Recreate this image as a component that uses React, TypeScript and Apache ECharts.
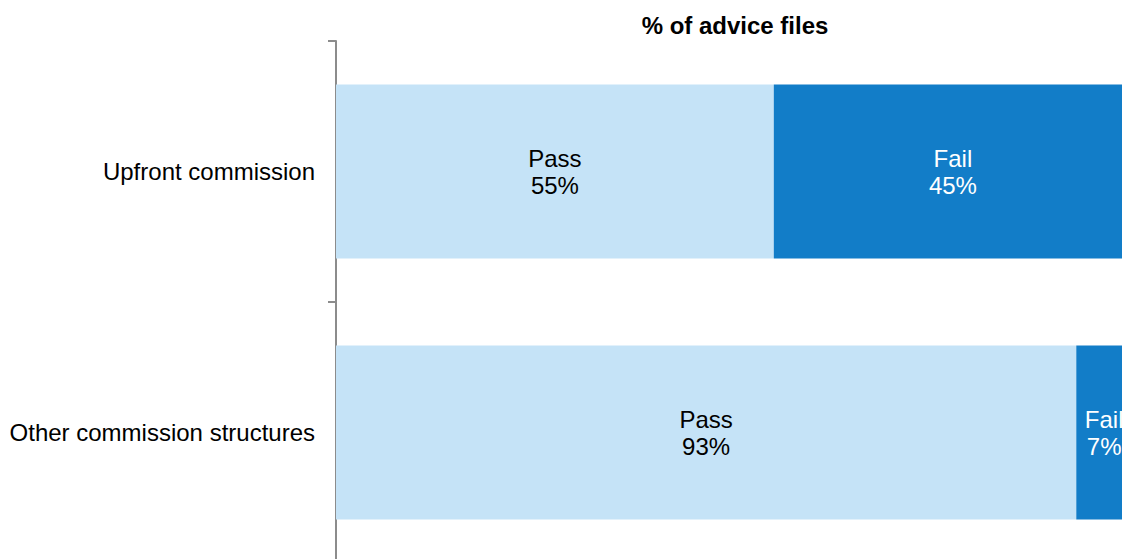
import React, { useEffect, useRef } from "react";
import * as echarts from "echarts";

const categories = ["Upfront commission", "Other commission structures"];
const passValues = [55, 93];
const failValues = [45, 7];
const passLabel = "Pass";
const failLabel = "Fail";
const chartTitle = "% of advice files";

const FONT = "'Liberation Sans', Arial, Helvetica, sans-serif";

export default function App() {
  const ref = useRef<HTMLDivElement>(null);
  useEffect(() => {
    if (!ref.current) return;
    const chart = echarts.init(ref.current, undefined, { renderer: "svg" });
    chart.setOption({
      animation: false,
      backgroundColor: "#ffffff",
      textStyle: { fontFamily: FONT },
      graphic: [
        {
          type: "text",
          x: 735,
          y: 25,
          style: {
            text: chartTitle,
            font: `bold 24px ${FONT}`,
            fill: "#000000",
            align: "center",
            verticalAlign: "middle",
          },
        },
      ],
      grid: { left: 336, right: 18, top: 41, bottom: 17, containLabel: false },
      xAxis: { type: "value", min: 0, max: 100, show: false },
      yAxis: {
        type: "category",
        data: categories,
        inverse: true,
        axisLine: { show: true, lineStyle: { color: "#8c8c8c", width: 2 } },
        axisTick: { show: true, length: 8, lineStyle: { color: "#8c8c8c", width: 2 } },
        axisLabel: { margin: 21, fontSize: 24, color: "#000000", fontFamily: FONT },
        splitLine: { show: false },
      },
      series: [
        {
          name: passLabel,
          type: "bar",
          stack: "total",
          barWidth: 174,
          data: passValues,
          itemStyle: { color: "#C5E3F7" },
          label: {
            show: true,
            position: "inside",
            formatter: (p: any) => `${passLabel}\n${p.value}%`,
            color: "#000000",
            fontSize: 24,
            lineHeight: 27,
            fontFamily: FONT,
          },
        },
        {
          name: failLabel,
          type: "bar",
          stack: "total",
          barWidth: 174,
          data: failValues,
          itemStyle: { color: "#127DC8" },
          label: {
            show: true,
            position: "inside",
            formatter: (p: any) => `${failLabel}\n${p.value}%`,
            color: "#ffffff",
            fontSize: 24,
            lineHeight: 27,
            fontFamily: FONT,
          },
        },
      ],
    });
    return () => chart.dispose();
  }, []);
  return (
    <div
      style={{
        position: "fixed",
        left: 0,
        top: 0,
        width: 1122,
        height: 559,
        overflow: "hidden",
        background: "#fff",
      }}
    >
      <div ref={ref} style={{ width: 1150, height: 580 }} />
    </div>
  );
}
